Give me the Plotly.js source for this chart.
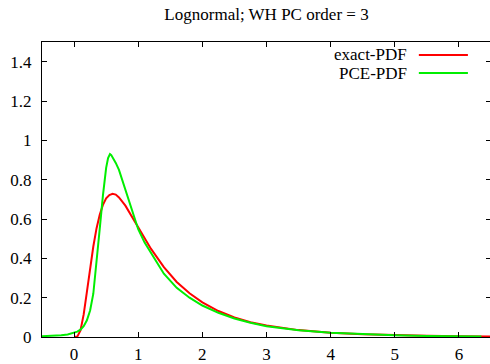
<!DOCTYPE html>
<html><head><meta charset="utf-8">
<script src="https://cdn.plot.ly/plotly-3.0.1.min.js"></script>
<style>html,body{margin:0;padding:0;overflow:hidden;background:#fff}#chart{width:491px;height:364px}</style>
</head><body><div id="chart"></div>
<script>
var chartTitle = "Lognormal; WH PC order = 3";
var seriesNames = ["exact-PDF", "PCE-PDF"];
var exactX = [0, 0.05, 0.1, 0.15, 0.2, 0.25, 0.3, 0.35, 0.4, 0.45, 0.5, 0.55, 0.6, 0.65, 0.7, 0.8, 0.9, 1.0, 1.1, 1.2, 1.4, 1.6, 1.8, 2.0, 2.25, 2.5, 2.75, 3.0, 3.5, 4.0, 4.5, 5.0, 5.5, 6.0, 6.5];
var exactY = [0, 0.002, 0.033, 0.115, 0.23, 0.35, 0.46, 0.552, 0.622, 0.672, 0.705, 0.722, 0.728, 0.724, 0.71, 0.668, 0.613, 0.557, 0.5, 0.448, 0.355, 0.28, 0.222, 0.176, 0.132, 0.099, 0.075, 0.058, 0.035, 0.022, 0.014, 0.0091, 0.0061, 0.0042, 0.0029];
var pceX = [-0.5, -0.4, -0.3, -0.2, -0.1, 0, 0.05, 0.1, 0.15, 0.2, 0.25, 0.3, 0.35, 0.4, 0.45, 0.5, 0.53, 0.56, 0.58, 0.6, 0.65, 0.7, 0.75, 0.8, 0.9, 1.0, 1.1, 1.2, 1.4, 1.6, 1.8, 2.0, 2.25, 2.5, 2.75, 3.0, 3.5, 4.0, 4.5, 5.0, 5.5, 6.0, 6.35];
var pceY = [0.004, 0.005, 0.007, 0.009, 0.013, 0.02, 0.027, 0.037, 0.055, 0.085, 0.135, 0.22, 0.37, 0.55, 0.72, 0.86, 0.91, 0.93, 0.925, 0.915, 0.885, 0.85, 0.8, 0.745, 0.64, 0.548, 0.48, 0.425, 0.322, 0.25, 0.2, 0.16, 0.123, 0.094, 0.072, 0.055, 0.034, 0.021, 0.013, 0.0085, 0.0057, 0.004, 0.003];
var xTicks = [0, 1, 2, 3, 4, 5, 6];
var yTicks = [0, 0.2, 0.4, 0.6, 0.8, 1, 1.2, 1.4];
var colors = ["#ff0000", "#00ee00"];

var font = {family: "Liberation Serif", size: 17, color: "#000"};
var traces = [
  {x: exactX, y: exactY, type: "scatter", mode: "lines", name: seriesNames[0], line: {color: colors[0], width: 2}, showlegend: false},
  {x: pceX, y: pceY, type: "scatter", mode: "lines", name: seriesNames[1], line: {color: colors[1], width: 2}, showlegend: false}
];
var legY = [1.434, 1.342];
var shapes = [], annotations = [];
for (var i = 0; i < 2; i++) {
  annotations.push({x: 5.2, y: legY[i], xref: "x", yref: "y", text: seriesNames[i], showarrow: false, xanchor: "right", yanchor: "middle", font: font, borderpad: 0});
  shapes.push({type: "line", xref: "x", yref: "y", x0: 5.375, x1: 6.14, y0: legY[i], y1: legY[i], line: {color: colors[i], width: 2}});
}
var layout = {
  width: 491, height: 364,
  margin: {l: 42, r: 0, t: 42, b: 27},
  paper_bgcolor: "#fff", plot_bgcolor: "#fff",
  font: font,
  title: {text: chartTitle, font: font, x: 0.5, xref: "paper", y: 0.962, yref: "container", yanchor: "middle"},
  xaxis: {range: [-0.5, 6.5], tickvals: xTicks, ticks: "inside", ticklen: 5, tickcolor: "#000", showline: true, linecolor: "#000", linewidth: 1, mirror: "ticks", showgrid: false, zeroline: false, tickfont: font, ticklabelstandoff: 2},
  yaxis: {range: [0, 1.5], tickvals: yTicks, ticks: "inside", ticklen: 5, tickcolor: "#000", showline: true, linecolor: "#000", linewidth: 1, mirror: "ticks", showgrid: false, zeroline: false, tickfont: font, ticklabelstandoff: 6},
  shapes: shapes, annotations: annotations
};
Plotly.newPlot("chart", traces, layout, {displayModeBar: false, staticPlot: true});
</script></body></html>
